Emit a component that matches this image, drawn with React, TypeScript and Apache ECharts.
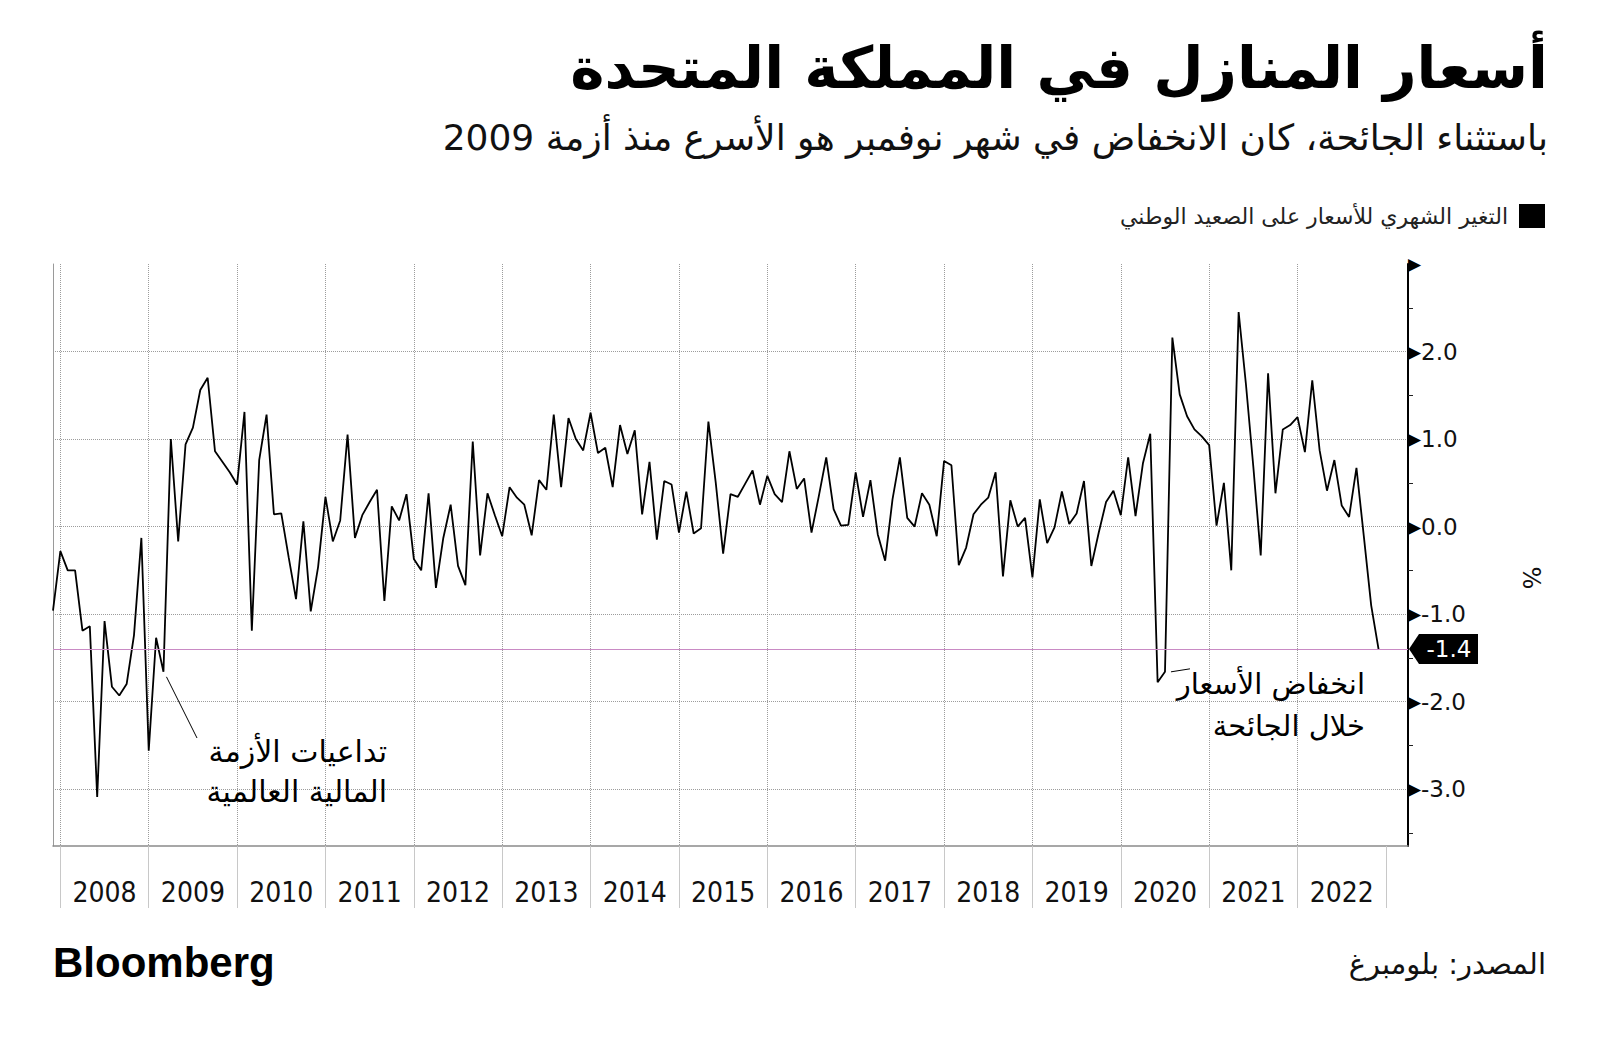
import React, { useEffect, useRef } from "react";
import * as echarts from "echarts";

// Monthly change in UK national house prices (%), first observation Nov 2007, last Nov 2022
const firstMonth = "2007-11";
const values: number[] = [
  -0.96, -0.28, -0.5, -0.5, -1.19, -1.14, -3.09, -1.08, -1.83, -1.93, -1.8, -1.24, -0.13,
  -2.56, -1.27, -1.66, 1.0, -0.17, 0.94, 1.13, 1.56, 1.7, 0.86, 0.74, 0.62, 0.48, 1.31,
  -1.19, 0.76, 1.28, 0.14, 0.15, -0.35, -0.83, 0.06, -0.97, -0.46, 0.34, -0.17, 0.07, 1.05,
  -0.13, 0.13, 0.28, 0.42, -0.85, 0.23, 0.07, 0.37, -0.37, -0.5, 0.38, -0.7, -0.13, 0.25,
  -0.45, -0.67, 0.97, -0.33, 0.38, 0.13, -0.11, 0.45, 0.33, 0.25, -0.1, 0.53, 0.42, 1.28,
  0.45, 1.24, 1.0, 0.87, 1.3, 0.84, 0.9, 0.45, 1.16, 0.83, 1.1, 0.14, 0.74, -0.15, 0.52,
  0.48, -0.07, 0.4, -0.08, -0.02, 1.2, 0.5, -0.31, 0.37, 0.34, 0.49, 0.64, 0.25, 0.58, 0.37,
  0.28, 0.86, 0.43, 0.55, -0.07, 0.35, 0.79, 0.2, 0.01, 0.02, 0.62, 0.11, 0.53, -0.09, -0.39,
  0.31, 0.79, 0.1, 0.0, 0.38, 0.25, -0.11, 0.75, 0.7, -0.44, -0.24, 0.14, 0.25, 0.33, 0.62,
  -0.57, 0.3, 0.0, 0.1, -0.58, 0.31, -0.19, -0.01, 0.4, 0.03, 0.15, 0.52, -0.45, -0.07, 0.28,
  0.41, 0.13, 0.79, 0.12, 0.72, 1.06, -1.78, -1.66, 2.16, 1.51, 1.26, 1.11, 1.03, 0.93, 0.01,
  0.5, -0.5, 2.45, 1.62, 0.68, -0.33, 1.75, 0.38, 1.11, 1.16, 1.25, 0.85, 1.67, 0.87, 0.41,
  0.76, 0.24, 0.11, 0.67, -0.11, -0.9, -1.4,
];
const years = [
  "2008", "2009", "2010", "2011", "2012", "2013", "2014", "2015",
  "2016", "2017", "2018", "2019", "2020", "2021", "2022",
];
const yGridValues = [-3, -2, -1, 0, 1, 2];
const yMinorValues = [-3.5, -2.5, -1.5, -0.5, 0.5, 1.5, 2.5];
const latestValue = -1.4;
const crisisIndex = 15; // Feb 2009
const pandemicIndex = 151; // Jun 2020

const TITLE = "أسعار المنازل في المملكة المتحدة";
const SUBTITLE = "باستثناء الجائحة، كان الانخفاض في شهر نوفمبر هو الأسرع منذ أزمة 2009";
const SERIES_NAME = "التغير الشهري للأسعار على الصعيد الوطني";
const NOTE_LEFT = ["تداعيات الأزمة", "المالية العالمية"];
const NOTE_RIGHT = ["انخفاض الأسعار", "خلال الجائحة"];
const SOURCE = "المصدر: بلومبرغ";

const X_MIN = 0;
const X_MAX = 184;
const Y_MIN = -3.65;
const Y_MAX = 3;

const AR = '"DejaVu Sans", "Noto Sans", sans-serif';
const NUM = '"DejaVu Sans", sans-serif';
const NARROW = '"Liberation Sans Narrow", "DejaVu Sans Condensed", sans-serif';

export default function App() {
  const ref = useRef<HTMLDivElement>(null);
  useEffect(() => {
    if (!ref.current) return;
    const chart = echarts.init(ref.current, undefined, { renderer: "svg" });
    const yearTicks = years.map((_, k) => 1 + 12 * k).concat([1 + 12 * years.length]);
    const yearGrid = years.map((_, k) => 1 + 12 * k);
    const yearMids = years.map((_, k) => 7 + 12 * k);

    const option: any = {
      animation: false,
      backgroundColor: "#ffffff",
      textStyle: { fontFamily: AR },
      title: [
        {
          text: TITLE,
          right: 47,
          top: 34,
          textStyle: { fontFamily: AR, fontSize: 58, fontWeight: 900, color: "#000" },
        },
        {
          text: SUBTITLE,
          right: 47,
          top: 114,
          textStyle: { fontFamily: AR, fontSize: 36, fontWeight: "normal", color: "#111" },
        },
      ],
      legend: {
        right: 50,
        top: 199,
        align: "right",
        icon: "rect",
        itemWidth: 26,
        itemHeight: 24,
        textStyle: { fontFamily: AR, fontSize: 22, color: "#222", padding: [0, 6, 0, 0] },
        data: [SERIES_NAME],
      },
      grid: { left: 53, right: 192, top: 264, bottom: 196, containLabel: false },
      xAxis: [
        {
          type: "value",
          min: X_MIN,
          max: X_MAX,
          position: "bottom",
          axisLine: { show: true, onZero: false, lineStyle: { color: "#8a8a8a", width: 1.5 } },
          axisTick: { show: true, customValues: yearTicks, length: 62, lineStyle: { color: "#c8c8c8", width: 1 } },
          axisLabel: {
            customValues: yearMids,
            formatter: (v: number) => years[Math.round((v - 7) / 12)] ?? "",
            margin: 32,
            fontSize: 28,
            fontFamily: NARROW,
            color: "#111",
          },
          splitLine: { show: false },
        },
        {
          type: "value",
          min: X_MIN,
          max: X_MAX,
          position: "bottom",
          axisLine: { show: false, onZero: false },
          axisTick: { show: false, customValues: yearGrid },
          axisLabel: { show: false },
          splitLine: { show: true, lineStyle: { color: "#9c9c9c", type: "dotted", width: 1 } },
        },
      ],
      yAxis: [
        {
          type: "value",
          position: "right",
          min: Y_MIN,
          max: Y_MAX,
          axisLine: { show: true, onZero: false, lineStyle: { color: "#000", width: 2 } },
          axisTick: { show: false, customValues: yGridValues },
          splitLine: { show: true, lineStyle: { color: "#9c9c9c", type: "dotted", width: 1 } },
          axisLabel: {
            customValues: [...yGridValues, Y_MAX],
            margin: 0,
            formatter: (v: number) =>
              Math.abs(v - Y_MAX) < 1e-6 ? "{tri|▶}" : "{tri|▶}{num|" + v.toFixed(1) + "}",
            rich: {
              tri: { fontSize: 17, fontFamily: NUM, color: "#000", lineHeight: 26, verticalAlign: "middle" },
              num: { fontSize: 23, fontFamily: NUM, color: "#111", lineHeight: 26, verticalAlign: "middle" },
            },
          },
        },
        {
          type: "value",
          position: "right",
          min: Y_MIN,
          max: Y_MAX,
          axisLine: { show: false, onZero: false },
          axisTick: { show: true, customValues: yMinorValues, length: 5, lineStyle: { color: "#222", width: 1 } },
          axisLabel: { show: false },
          splitLine: { show: false },
        },
        {
          type: "value",
          position: "left",
          min: Y_MIN,
          max: Y_MAX,
          axisLine: { show: true, onZero: false, lineStyle: { color: "#9a9a9a", width: 1 } },
          axisTick: { show: false },
          axisLabel: { show: false },
          splitLine: { show: false },
        },
      ],
      series: [
        {
          name: SERIES_NAME,
          type: "line",
          xAxisIndex: 0,
          yAxisIndex: 0,
          data: values.map((v, i) => [i, v]),
          showSymbol: false,
          symbol: "none",
          lineStyle: { color: "#000", width: 1.8 },
          itemStyle: { color: "#000" },
          markLine: {
            silent: true,
            symbol: "none",
            label: { show: false },
            lineStyle: { color: "#c98ac4", width: 1.2, type: "solid" },
            data: [{ yAxis: latestValue }],
          },
        },
      ],
    };
    chart.setOption(option);

    const toPx = (x: number, y: number) =>
      chart.convertToPixel({ xAxisIndex: 0, yAxisIndex: 0 } as any, [x, y]) as number[];
    const right = toPx(X_MAX, latestValue);
    const tagY = right[1];
    const tagX = right[0] + 1;
    const pCrisis = toPx(crisisIndex, values[crisisIndex]);
    const pPandemic = toPx(pandemicIndex, values[pandemicIndex]);

    chart.setOption({
      graphic: [
        {
          type: "polygon",
          shape: {
            points: [
              [tagX, tagY],
              [tagX + 10, tagY - 15],
              [tagX + 69, tagY - 15],
              [tagX + 69, tagY + 15],
              [tagX + 10, tagY + 15],
            ],
          },
          style: { fill: "#000" },
        },
        {
          type: "text",
          x: tagX + 40,
          y: tagY,
          style: { text: latestValue.toFixed(1), fill: "#fff", font: `23px ${NUM}`, align: "center", verticalAlign: "middle" },
        },
        {
          type: "text",
          x: 1531,
          y: 578,
          rotation: -Math.PI / 2,
          style: { text: "%", fill: "#111", font: `24px ${NUM}`, align: "center", verticalAlign: "middle" },
        },
        {
          type: "line",
          shape: { x1: pCrisis[0] + 3, y1: pCrisis[1] + 5, x2: 197, y2: 738 },
          style: { stroke: "#000", lineWidth: 1 },
        },
        {
          type: "text",
          x: 387,
          y: 751,
          style: { text: NOTE_LEFT[0], fill: "#000", font: `30px ${AR}`, align: "right", verticalAlign: "middle" },
        },
        {
          type: "text",
          x: 387,
          y: 791,
          style: { text: NOTE_LEFT[1], fill: "#000", font: `30px ${AR}`, align: "right", verticalAlign: "middle" },
        },
        {
          type: "line",
          shape: { x1: pPandemic[0] + 6, y1: pPandemic[1], x2: pPandemic[0] + 25, y2: pPandemic[1] - 3 },
          style: { stroke: "#000", lineWidth: 1 },
        },
        {
          type: "text",
          x: 1365,
          y: 684,
          style: { text: NOTE_RIGHT[0], fill: "#000", font: `29px ${AR}`, align: "right", verticalAlign: "middle" },
        },
        {
          type: "text",
          x: 1365,
          y: 726,
          style: { text: NOTE_RIGHT[1], fill: "#000", font: `29px ${AR}`, align: "right", verticalAlign: "middle" },
        },
        {
          type: "text",
          x: 53,
          y: 962,
          style: { text: "Bloomberg", fill: "#000", font: `900 42px "Liberation Sans", sans-serif`, align: "left", verticalAlign: "middle" },
        },
        {
          type: "text",
          x: 1546,
          y: 964,
          style: { text: SOURCE, fill: "#111", font: `29px ${AR}`, align: "right", verticalAlign: "middle" },
        },
      ],
    });

    return () => chart.dispose();
  }, []);
  return (
    <div
      ref={ref}
      data-first-month={firstMonth}
      style={{ position: "absolute", left: 0, top: 0, width: 1600, height: 1042, background: "#fff" }}
    />
  );
}
